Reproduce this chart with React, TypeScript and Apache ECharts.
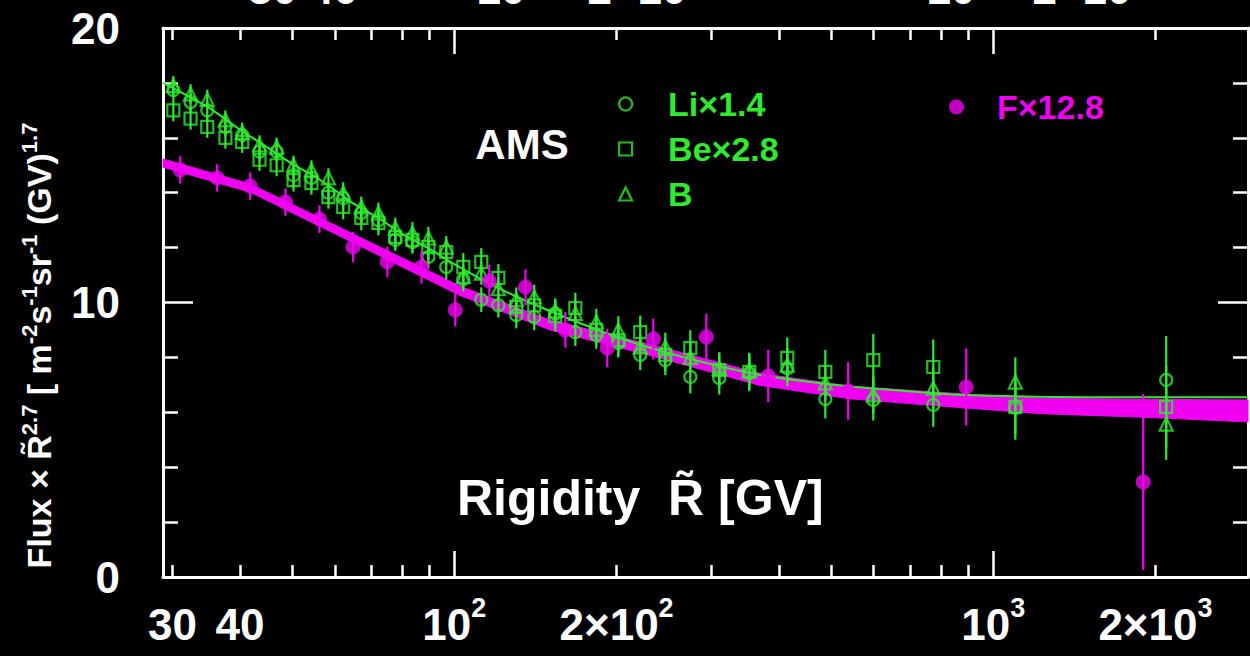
import React, { useEffect, useRef } from "react";
import * as echarts from "echarts";

const GREEN = "#2fea2f";
const MAGENTA = "#f000f0";
const FONT = "'Liberation Sans', Arial, Helvetica, sans-serif";

// Rigidity bins (GV) of the Li / Be / B points
const binRigidity = [30.1, 32.4, 34.8, 37.6, 40.4, 43.5, 46.8, 50.3, 54.3, 58.4, 62.2, 67.2, 72.3, 77.7, 83.6, 89.5, 96.6, 103.9, 112.2, 120.7, 130.3, 140.7, 153.9, 167.7, 183.4, 201.5, 221.3, 246.3, 274.1, 310.2, 352.6, 414.8, 488, 599, 774, 1099, 2094];
const liValues = [17.74, 17.3, 17.0, 16.4, 16.1, 15.5, 15.5, 14.64, 14.54, 14.0, 13.8, 13.26, 13.0, 12.28, 12.2, 11.66, 11.29, 10.85, 10.1, 9.9, 9.54, 9.47, 9.6, 8.92, 8.82, 8.52, 8.09, 7.9, 7.29, 7.25, 7.43, 7.6, 6.48, 6.45, 6.27, 6.16, 7.18];
const liErrors = [0.35, 0.35, 0.35, 0.35, 0.35, 0.35, 0.35, 0.38, 0.38, 0.38, 0.4, 0.4, 0.4, 0.4, 0.42, 0.42, 0.45, 0.45, 0.45, 0.45, 0.48, 0.48, 0.5, 0.5, 0.5, 0.52, 0.55, 0.55, 0.6, 0.6, 0.62, 0.65, 0.7, 0.75, 0.8, 0.95, 1.6];
const beValues = [17.0, 16.7, 16.4, 16.0, 15.85, 15.2, 15.0, 14.46, 14.35, 13.84, 13.48, 13.08, 12.9, 12.39, 12.28, 12.02, 11.84, 11.3, 11.48, 10.9, 9.84, 9.9, 9.5, 9.8, 9.0, 8.63, 8.92, 8.09, 8.34, 7.54, 7.47, 7.98, 7.47, 7.9, 7.65, 6.2, 6.2];
const beErrors = [0.4, 0.4, 0.4, 0.4, 0.4, 0.4, 0.4, 0.42, 0.42, 0.42, 0.45, 0.45, 0.45, 0.45, 0.45, 0.48, 0.48, 0.5, 0.5, 0.5, 0.52, 0.52, 0.55, 0.55, 0.55, 0.58, 0.6, 0.6, 0.65, 0.65, 0.7, 0.75, 0.8, 0.95, 1.0, 1.2, 1.5];
const bValues = [17.9, 17.6, 17.4, 16.65, 16.2, 15.74, 15.66, 15.0, 14.83, 14.54, 14.0, 13.48, 13.26, 12.71, 12.53, 12.35, 12.02, 10.95, 11.07, 10.5, 10.1, 10.2, 9.7, 9.6, 9.29, 9.0, 8.38, 8.38, 8.0, 7.6, 7.54, 7.72, 7.07, 6.63, 6.88, 7.1, 5.57];
const bErrors = [0.35, 0.35, 0.35, 0.35, 0.35, 0.35, 0.35, 0.35, 0.35, 0.35, 0.38, 0.38, 0.38, 0.38, 0.4, 0.4, 0.4, 0.42, 0.42, 0.42, 0.45, 0.45, 0.45, 0.48, 0.48, 0.5, 0.5, 0.52, 0.55, 0.55, 0.6, 0.62, 0.65, 0.7, 0.75, 0.9, 1.3];

// Fluorine points
const fRigidity = [31.0, 36.3, 41.8, 48.6, 56.2, 64.9, 75.1, 86.9, 100.4, 116.1, 135.5, 160.7, 192.2, 234, 293.5, 382.4, 538, 891, 1898];
const fValues = [14.83, 14.54, 14.24, 13.66, 13.04, 12.02, 11.48, 11.29, 9.73, 10.78, 10.56, 9.0, 8.34, 8.67, 8.74, 7.32, 6.78, 6.92, 3.46];
const fErrors = [0.5, 0.5, 0.5, 0.5, 0.5, 0.55, 0.55, 0.6, 0.6, 0.6, 0.65, 0.65, 0.7, 0.75, 0.85, 0.95, 1.05, 1.4, 3.2];

// Green model curve (Li/Be/B)
const fitRigidity = [28.8, 35, 40, 45, 50, 55, 60, 65, 72, 80, 90, 100, 120, 150, 200, 250, 350, 450, 550, 800, 1000, 1500, 2970];
const fitValues = [18.0, 17.1, 16.3, 15.65, 15.05, 14.6, 14.1, 13.6, 13.1, 12.5, 11.95, 11.4, 10.55, 9.7, 8.75, 8.15, 7.45, 7.12, 6.93, 6.68, 6.6, 6.55, 6.55];

// Magenta band (F model)
const bandRigidity = [28.8, 41.8, 64.1, 102.6, 150.6, 231, 369, 543, 832, 1224, 1957, 2970];
const bandCenter = [15.08, 14.17, 12.39, 10.42, 9.18, 8.27, 7.2, 6.72, 6.45, 6.23, 6.14, 6.05];
const bandHalfWidth = [0.15, 0.15, 0.16, 0.17, 0.18, 0.2, 0.22, 0.23, 0.25, 0.28, 0.33, 0.4];

// Axis ticks / labels
const xMin = 28.8;
const xMax = 2970;
const majorTicks = [100, 1000];
const minorTicks = [30, 40, 50, 60, 70, 80, 90, 200, 300, 400, 500, 600, 700, 800, 900, 2000];
const majorLabels = [100, 1000];
const minorLabels = [30, 40, 200, 2000];
const tickLabelText: Record<number, string> = {
  30: "30",
  40: "40",
  100: "10{s|2}",
  200: "2×10{s|2}",
  1000: "10{s|3}",
  2000: "2×10{s|3}",
};
// fragments of the tick labels of the panel above (cut off by the page edge)
const topFragmentTexts = ["30 40", "10", "2×10", "10", "2×10"];
const topFragmentX = [303, 501, 637, 951, 1082];

function errorBars(name: string, xs: number[], ys: number[], es: number[], color: string, z: number) {
  return {
    type: "custom",
    name,
    silent: true,
    z,
    data: xs.map((x, i) => [x, ys[i], es[i]]),
    encode: { x: 0, y: 1 },
    renderItem: (_p: any, api: any) => {
      const x = api.value(0);
      const y = api.value(1);
      const e = api.value(2);
      const a = api.coord([x, y + e]);
      const b = api.coord([x, y - e]);
      return {
        type: "line",
        shape: { x1: a[0], y1: a[1], x2: b[0], y2: b[1] },
        style: { stroke: color, lineWidth: 2.2 },
      };
    },
  };
}

const labelRich = {
  s: { fontSize: 27, fontWeight: "bold", fontFamily: FONT, color: "#fff", verticalAlign: "top" as const, lineHeight: 27 },
};

function xAxisDef(position: "top" | "bottom", ticks: number[], tickLen: number, labels: number[] | null, showLine: boolean) {
  return {
    type: "log",
    logBase: 10,
    position,
    min: xMin,
    max: xMax,
    axisLine: { show: showLine, lineStyle: { color: "#fff", width: 3 } },
    axisTick: { show: true, inside: true, length: tickLen, customValues: ticks, lineStyle: { color: "#fff", width: 2.5 } },
    minorTick: { show: false },
    splitLine: { show: false },
    axisLabel: labels
      ? {
          show: true,
          customValues: labels,
          margin: 17,
          color: "#fff",
          fontSize: 44,
          fontWeight: "bold",
          lineHeight: 60,
          fontFamily: FONT,
          formatter: (v: number) => tickLabelText[Math.round(v)] ?? "",
          rich: labelRich,
        }
      : { show: false },
  };
}

function yAxisDef(position: "left" | "right", withLabels: boolean) {
  return {
    type: "value",
    position,
    min: 0,
    max: 20,
    interval: 10,
    axisLine: { show: true, lineStyle: { color: "#fff", width: 3 } },
    axisTick: { show: true, inside: true, length: 30, lineStyle: { color: "#fff", width: 2.5 } },
    minorTick: { show: true, splitNumber: 5, length: 15, lineStyle: { color: "#fff", width: 2.5 } },
    splitLine: { show: false },
    axisLabel: withLabels
      ? { show: true, color: "#fff", fontSize: 44, fontWeight: "bold", fontFamily: FONT, margin: 43 }
      : { show: false },
    ...(withLabels
      ? {
          name: "Flux × R\u0303{s|2.7} [ m{s|-2}s{s|-1}sr{s|-1} (GV){s|1.7}",
          nameLocation: "middle",
          nameRotate: 90,
          nameGap: 100,
          nameTextStyle: {
            color: "#fff",
            fontSize: 34,
            fontWeight: "bold",
            fontFamily: FONT,
            lineHeight: 42,
            padding: [0, 86, 0, 0],
            rich: { s: { fontSize: 22, fontWeight: "bold", fontFamily: FONT, color: "#fff", verticalAlign: "top", lineHeight: 22 } },
          },
        }
      : {}),
  };
}

export default function App() {
  const ref = useRef<HTMLDivElement>(null);
  useEffect(() => {
    if (!ref.current) return;
    const chart = echarts.init(ref.current, null, { renderer: "svg" });
    const hollow = { color: "rgba(0,0,0,0)", borderColor: GREEN, borderWidth: 2.2 };
    const option: any = {
      animation: false,
      backgroundColor: "#000",
      grid: { left: 163, right: 2, top: 28, bottom: 79, outerBoundsMode: "none", containLabel: false },
      xAxis: [
        xAxisDef("bottom", majorTicks, 26, majorLabels, true),
        xAxisDef("bottom", minorTicks, 12, minorLabels, false),
        xAxisDef("top", majorTicks, 26, null, true),
        xAxisDef("top", minorTicks, 12, null, false),
      ],
      yAxis: [yAxisDef("left", true), yAxisDef("right", false)],
      legend: [
        {
          left: 613,
          top: 82,
          orient: "vertical",
          selectedMode: false,
          itemWidth: 13,
          itemHeight: 13,
          itemGap: 11,
          textStyle: { color: GREEN, fontSize: 34, fontWeight: "bold", fontFamily: FONT, padding: [0, 0, 0, 31] },
          data: [
            { name: "Li×1.4", icon: "circle", itemStyle: hollow },
            { name: "Be×2.8", icon: "rect", itemStyle: hollow },
            { name: "B", icon: "triangle", itemStyle: hollow },
          ],
        },
        {
          left: 944,
          top: 85,
          orient: "vertical",
          selectedMode: false,
          itemWidth: 15,
          itemHeight: 15,
          textStyle: { color: MAGENTA, fontSize: 34, fontWeight: "bold", fontFamily: FONT, padding: [0, 0, 0, 28] },
          data: [{ name: "F×12.8", icon: "circle", itemStyle: { color: MAGENTA } }],
        },
      ],
      graphic: [
        {
          type: "text",
          x: 522,
          y: 144,
          style: { text: "AMS", fill: "#fff", fontSize: 42, fontWeight: "bold", fontFamily: FONT, align: "center", verticalAlign: "middle" },
        },
        {
          type: "text",
          x: 457,
          y: 498,
          style: { text: "Rigidity  R\u0303 [GV]", fill: "#fff", fontSize: 50, fontWeight: "bold", fontFamily: FONT, align: "left", verticalAlign: "middle" },
        },
        ...topFragmentTexts.map((t, i) => ({
          type: "text",
          x: topFragmentX[i],
          y: 10,
          style: { text: t, fill: "#fff", fontSize: 44, fontWeight: "bold", fontFamily: FONT, align: "center", verticalAlign: "bottom" },
        })),
      ],
      series: [
        {
          type: "custom",
          name: "F band",
          silent: true,
          z: 1,
          data: [[bandRigidity[0], bandCenter[0]]],
          encode: { x: 0, y: 1 },
          renderItem: (_p: any, api: any) => {
            const upper = bandRigidity.map((r, i) => api.coord([r, bandCenter[i] + bandHalfWidth[i]]));
            const lower = bandRigidity.map((r, i) => api.coord([r, bandCenter[i] - bandHalfWidth[i]])).reverse();
            return {
              type: "polygon",
              shape: { points: upper.concat(lower) },
              style: { fill: MAGENTA, stroke: MAGENTA, lineWidth: 1 },
            };
          },
        },
        {
          type: "line",
          name: "fit",
          z: 2,
          data: fitRigidity.map((r, i) => [r, fitValues[i]]),
          smooth: 0.3,
          showSymbol: false,
          symbol: "none",
          lineStyle: { color: GREEN, width: 2 },
          silent: true,
        },
        errorBars("Li err", binRigidity, liValues, liErrors, GREEN, 3),
        errorBars("Be err", binRigidity, beValues, beErrors, GREEN, 3),
        errorBars("B err", binRigidity, bValues, bErrors, GREEN, 3),
        {
          type: "scatter",
          name: "Li×1.4",
          z: 4,
          symbol: "circle",
          symbolSize: 12,
          itemStyle: hollow,
          data: binRigidity.map((r, i) => [r, liValues[i]]),
        },
        {
          type: "scatter",
          name: "Be×2.8",
          z: 4,
          symbol: "rect",
          symbolSize: 12,
          itemStyle: hollow,
          data: binRigidity.map((r, i) => [r, beValues[i]]),
        },
        {
          type: "scatter",
          name: "B",
          z: 4,
          symbol: "triangle",
          symbolSize: 13,
          itemStyle: hollow,
          data: binRigidity.map((r, i) => [r, bValues[i]]),
        },
        errorBars("F err", fRigidity, fValues, fErrors, MAGENTA, 5),
        {
          type: "scatter",
          name: "F×12.8",
          z: 6,
          symbol: "circle",
          symbolSize: 15,
          itemStyle: { color: MAGENTA },
          data: fRigidity.map((r, i) => [r, fValues[i]]),
        },
      ],
    };
    chart.setOption(option);
    return () => chart.dispose();
  }, []);
  return (
    <div
      ref={ref}
      style={{ position: "fixed", left: 0, top: 0, width: 1250, height: 656, background: "#000" }}
    />
  );
}
